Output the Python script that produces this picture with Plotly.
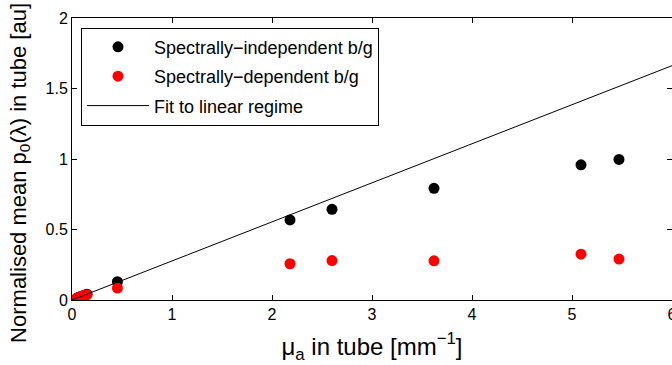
import plotly.graph_objects as go

# absorption coefficient in the tube [mm^-1]
mua = [0.05, 0.07, 0.09, 0.11, 0.13, 0.15, 0.454, 2.18, 2.60, 3.62, 5.09, 5.47]
# normalised mean initial pressure, spectrally-independent background
p0_indep = [0.014, 0.019, 0.025, 0.030, 0.036, 0.041, 0.13, 0.568, 0.643, 0.792, 0.959, 0.997]
# normalised mean initial pressure, spectrally-dependent background
p0_dep = [0.014, 0.019, 0.024, 0.029, 0.033, 0.038, 0.085, 0.257, 0.280, 0.278, 0.325, 0.290]

# linear-regime fit through the origin
fit_slope = 0.277
fit_x = [0.0, 6.0]
fit_y = [fit_slope * v for v in fit_x]

x_ticks = [0, 1, 2, 3, 4, 5, 6]
y_ticks = [0, 0.5, 1, 1.5, 2]
y_tick_text = ["0", "0.5", "1", "1.5", "2"]

font = "Liberation Sans, Arial, Helvetica, sans-serif"

fig = go.Figure()
fig.add_trace(go.Scatter(
    x=mua, y=p0_indep, mode="markers", name="Spectrally\u2212independent b/g",
    marker=dict(color="black", size=11), legendgroup="a",
))
fig.add_trace(go.Scatter(
    x=mua, y=p0_dep, mode="markers", name="Spectrally\u2212dependent b/g",
    marker=dict(color="#ff0000", size=11), legendgroup="b",
))
fig.add_trace(go.Scatter(
    x=fit_x, y=fit_y, mode="lines", name="Fit to linear regime",
    line=dict(color="black", width=1), legendgroup="c",
))

axis_common = dict(
    showgrid=False, zeroline=False, showline=True, linecolor="black", linewidth=1,
    mirror="ticks", ticks="inside", ticklen=5, tickcolor="black", tickwidth=1,
    tickfont=dict(family=font, size=16, color="black"),
    ticklabeloverflow="allow", automargin=False,
)

fig.update_layout(
    width=672, height=365,
    margin=dict(l=72, r=0, t=18, b=65, autoexpand=False),
    paper_bgcolor="white", plot_bgcolor="white",
    font=dict(family=font, color="black"),
    showlegend=True,
    legend=dict(
        x=0.015, y=0.966, xanchor="left", yanchor="top",
        bordercolor="black", borderwidth=1, bgcolor="white",
        font=dict(family=font, size=18, color="black"),
        tracegroupgap=3, itemwidth=62,
    ),
    xaxis=dict(
        range=[0, 6], tickvals=x_ticks, ticktext=[str(v) for v in x_ticks],
        title=dict(text="\u03bc<sub>a</sub> in tube [mm<sup>\u22121</sup>]",
                   font=dict(family=font, size=24), standoff=15),
        **axis_common,
    ),
    yaxis=dict(
        range=[0, 2], tickvals=y_ticks, ticktext=y_tick_text,
        **axis_common,
    ),
    annotations=[dict(
        text="Normalised mean p<sub>0</sub>(\u03bb) in tube [au]",
        textangle=-90, xref="paper", yref="paper", x=-0.087, y=0.45,
        xanchor="center", yanchor="middle", showarrow=False,
        font=dict(family=font, size=22, color="black"),
    )],
)

fig.write_html("out.html")
